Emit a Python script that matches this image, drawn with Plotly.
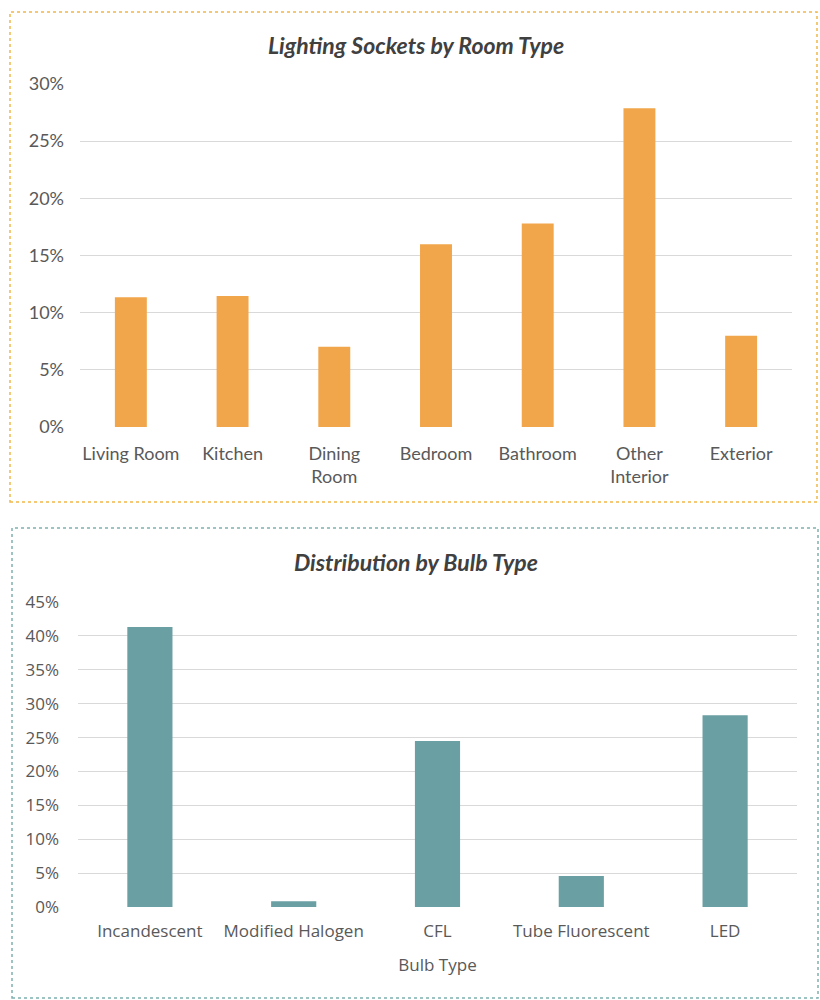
import plotly.graph_objects as go

rooms = ["Living Room", "Kitchen", "Dining<br>Room", "Bedroom", "Bathroom", "Other<br>Interior", "Exterior"]
room_share = [0.1135, 0.1146, 0.0702, 0.1598, 0.1780, 0.2787, 0.0799]

bulbs = ["Incandescent", "Modified Halogen", "CFL", "Tube Fluorescent", "LED"]
bulb_share = [0.413, 0.0084, 0.245, 0.0457, 0.283]

FONT = "Lato"
FONT2 = "Open Sans"
TXT = "#595959"
GRID = "#d9d9d9"
W, H = 820, 1000

fig = go.Figure()
fig.add_trace(go.Bar(x=rooms, y=room_share, marker=dict(color="#f2a64b", line=dict(width=0)),
                     xaxis="x", yaxis="y", showlegend=False, hoverinfo="x+y"))
fig.add_trace(go.Bar(x=bulbs, y=bulb_share, marker=dict(color="#6a9fa3", line=dict(width=0)),
                     xaxis="x2", yaxis="y2", showlegend=False, hoverinfo="x+y"))

def px(x): return x / W
def py(y): return 1 - y / H

f1 = dict(family=FONT, size=18, color=TXT)
f2 = dict(family=FONT2, size=17, color=TXT)
fig.update_layout(
    width=W, height=H, margin=dict(l=0, r=0, t=0, b=0, pad=0, autoexpand=False),
    paper_bgcolor="white", plot_bgcolor="white",
    bargap=0.686,
    font=dict(family=FONT, color=TXT),
    xaxis=dict(domain=[px(80), px(792)], anchor="y", showgrid=False, showline=False,
               ticks="", tickfont=f1, ticklabelstandoff=14, automargin=False),
    yaxis=dict(domain=[py(427), py(84)], anchor="x", range=[0, 0.30], dtick=0.05,
               tickformat=".0%", showgrid=True, gridcolor=GRID, gridwidth=1.3,
               zeroline=False, showline=False, ticks="", tickfont=f1,
               ticklabelstandoff=15, automargin=False),
    xaxis2=dict(domain=[px(78), px(797)], anchor="y2", showgrid=False, showline=False,
                ticks="", tickfont=f2, ticklabelstandoff=12, automargin=False,
                title=dict(text="Bulb Type", font=dict(family=FONT2, size=17, color=TXT), standoff=18)),
    yaxis2=dict(domain=[py(907), py(602)], anchor="x2", range=[0, 0.45], dtick=0.05,
                tickformat=".0%", showgrid=True, gridcolor=GRID, gridwidth=1.3,
                zeroline=False, showline=False, ticks="", tickfont=f2,
                ticklabelstandoff=18, automargin=False),
)

fig.add_annotation(text="<b><i>Lighting Sockets by Room Type</i></b>", x=px(416), y=py(45),
                   xref="paper", yref="paper", showarrow=False, xanchor="center", yanchor="middle",
                   font=dict(family=FONT, size=23, color="#404040"))
fig.add_annotation(text="<b><i>Distribution by Bulb Type</i></b>", x=px(416), y=py(562),
                   xref="paper", yref="paper", showarrow=False, xanchor="center", yanchor="middle",
                   font=dict(family=FONT, size=23, color="#404040"))

fig.add_shape(type="rect", xref="paper", yref="paper", x0=px(10), x1=px(817), y0=py(502), y1=py(12),
              line=dict(color="#f0b84a", width=1.5, dash="dot"), fillcolor="rgba(0,0,0,0)", layer="below")
fig.add_shape(type="rect", xref="paper", yref="paper", x0=px(12), x1=px(818), y0=py(998), y1=py(528),
              line=dict(color="#7fb0b0", width=1.5, dash="dot"), fillcolor="rgba(0,0,0,0)", layer="below")

fig.write_html("out.html", post_script="document.body.style.margin='0';document.body.style.padding='0';")
